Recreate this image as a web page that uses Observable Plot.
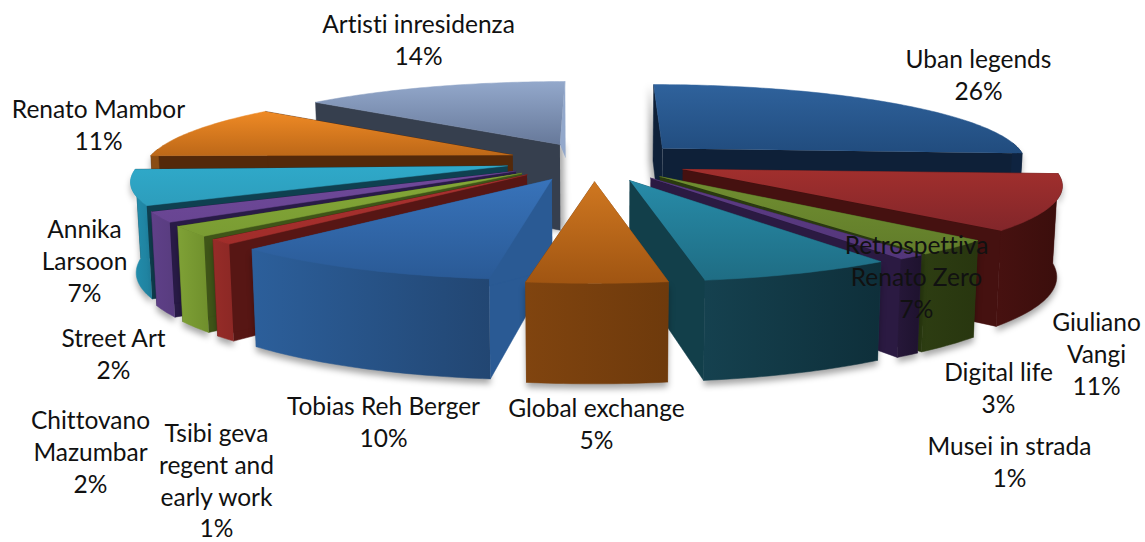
<!DOCTYPE html>
<html>
<head>
<meta charset="utf-8">
<script src="https://cdn.jsdelivr.net/npm/d3@7"></script>
<script src="https://cdn.jsdelivr.net/npm/@observablehq/plot@0.6"></script>
<style>
  html, body { margin: 0; padding: 0; background: #fff; }
  svg { display: block; }
  svg text { font-variant-ligatures: none; }
</style>
</head>
<body>
<div id="chart"></div>
<script>
// Exhibition shares, clockwise from twelve o'clock
const categories = [
  "Uban legends", "Giuliano Vangi", "Digital life", "Musei in strada",
  "Retrospettiva Renato Zero", "Global exchange", "Tobias Reh Berger",
  "Tsibi geva regent and early work", "Chittovano Mazumbar", "Street Art",
  "Annika Larsoon", "Renato Mambor", "Artisti inresidenza"
];
const shares = [26, 11, 3, 1, 7, 5, 10, 1, 2, 2, 7, 11, 14];
const labelText = [
  "Uban legends", "Giuliano\nVangi", "Digital life", "Musei in strada",
  "Retrospettiva\nRenato Zero", "Global exchange", "Tobias Reh Berger",
  "Tsibi geva\nregent and\nearly work", "Chittovano\nMazumbar", "Street Art",
  "Annika\nLarsoon", "Renato Mambor", "Artisti inresidenza"
];

// Colours per slice: lit top (start, end), outer wall (start, end), cut face
const palette = [
  ["#2f629c", "#214c7e", "#0e2340", "#0e2340", "#0e2038"],
  ["#a12f2d", "#82262a", "#471110", "#3a0e0c", "#451110"],
  ["#718f31", "#617c2a", "#2d3d12", "#28360f", "#2a3a10"],
  ["#5d3c85", "#53367a", "#261739", "#1e122e", "#2b1a42"],
  ["#278ba8", "#1f6d84", "#15414f", "#0e2f3a", "#123f4a"],
  ["#cf7720", "#a05512", "#80440f", "#6e3a0c", "#7a400e"],
  ["#3873ba", "#2a5a96", "#2c5f9b", "#224672", "#2a5a94"],
  ["#a83230", "#a12d2a", "#962c28", "#8c2825", "#571614"],
  ["#84a838", "#7a9c33", "#7fa136", "#6f8f2c", "#3f5518"],
  ["#70499a", "#684592", "#5f4088", "#583c7f", "#291b47"],
  ["#2fa9c9", "#2d9dbc", "#2290b0", "#1f7f9c", "#0f4050"],
  ["#ef8a25", "#bd6818", "#8a4c12", "#8a4c12", "#54290a"],
  ["#93a8cb", "#67799a", "#4c5a70", "#4c5a70", "#363f4e"]
];

// Paint order: far slices first, the front slice last
const paintOrder = [12, 11, 10, 9, 8, 7, 6, 0, 1, 2, 3, 4, 5];

// Rotation of each slice about its own apex, span unchanged (degrees)
const spinDeg = [0, -0.6, 0, -1, -1.5, -2.2, -4, -4.5, -3.5, -2.5, -2.5, -0.5, 0];

// Label block centres in chart units
const labelAt = [
  [978, 73], [1096, 352], [998, 386], [1009, 460], [916, 275], [596, 422],
  [383, 420], [216, 479], [90, 450], [113, 352], [84, 259], [98, 123], [418, 38]
];

// Projection of the tilted pie onto the page
const view = {x0: 597, y0: 161, rx: 366, ry: 78, persp: 0.16, explode: 0.25};
const project = (u, v) => {
  const w = 1 + view.persp * v;
  return [view.x0 + view.rx * u / w, view.y0 - view.ry * v / w];
};
// Foot of the extruded side below a point of the top surface
const drop = (u, v) => {
  const [x, y] = project(u, v);
  return [view.x0 + (x - view.x0) * 0.988, y + 88 - 10 * v];
};

// One slice's polygons, all derived from its share
const cumulative = d3.cumsum(shares);
const slices = shares.map((share, i) => {
  const spin = spinDeg[i] * Math.PI / 180;
  const a0 = (cumulative[i] - share) / 100 * 2 * Math.PI;
  const a1 = cumulative[i] / 100 * 2 * Math.PI;
  const mid = (a0 + a1) / 2;
  const cu = view.explode * Math.sin(mid), cv = view.explode * Math.cos(mid);
  const steps = Math.max(2, Math.ceil((a1 - a0) * 180 / Math.PI));
  const rim = d3.range(steps + 1).map((k) => {
    const a = a0 + spin + (a1 - a0) * k / steps;
    return [cu + Math.sin(a), cv + Math.cos(a), a];
  });
  const top = [project(cu, cv), ...rim.map(([u, v]) => project(u, v))];
  const face = (p) => [project(cu, cv), project(p[0], p[1]), drop(p[0], p[1]), drop(cu, cv)];
  const front = rim.filter((p) => Math.cos(p[2]) < 0.08);
  const wall = front.length > 1
    ? [...front.map(([u, v]) => project(u, v)), ...front.slice().reverse().map(([u, v]) => drop(u, v))]
    : null;
  return {i, top, wall, cutStart: face(rim[0]), cutEnd: face(rim[rim.length - 1])};
});

// Gradients used by the top surfaces and walls
const defs = () => {
  const d = d3.create("svg:defs");
  palette.forEach((c, i) => {
    const g = d.append("linearGradient").attr("id", `top${i}`)
      .attr("x1", 0).attr("y1", 0).attr("x2", 0).attr("y2", 1);
    g.append("stop").attr("offset", "0%").attr("stop-color", c[0]);
    g.append("stop").attr("offset", "100%").attr("stop-color", c[1]);
    const h = d.append("linearGradient").attr("id", `wall${i}`)
      .attr("x1", 0).attr("y1", 0).attr("x2", 1).attr("y2", 0);
    h.append("stop").attr("offset", "0%").attr("stop-color", c[2]);
    h.append("stop").attr("offset", "100%").attr("stop-color", c[3]);
  });
  return d.node();
};

const polygon = (points, options) =>
  Plot.line(points, {x: (p) => p[0], y: (p) => p[1], curve: "linear", ...options});

// Soft shadow cast by a polygon, displaced on the page
const shadow = (points, dx, dy) =>
  polygon(points.map(([x, y]) => [x + dx, y + dy]), {
    fill: "#000", fillOpacity: 0.35, stroke: "none", imageFilter: "blur(3px)"
  });

const marks = [defs];
for (const i of paintOrder) {
  const s = slices[i], c = palette[i];
  const paint = (points, fill) => polygon(points, {fill, stroke: fill, strokeWidth: 0.5});
  if (s.wall) marks.push(shadow(s.wall, 0, 5));
  // The two slices flanking twelve o'clock throw a shadow off their cut faces
  if (i === 12) marks.push(shadow([s.cutStart[0], s.cutStart[3], [s.cutStart[3][0] - 20, s.cutStart[3][1]], [s.cutStart[0][0] - 20, s.cutStart[0][1]]], 4, 0));
  if (i === 0) marks.push(shadow(s.cutStart, -4, 0));
  if (i === 12) {
    // Thin lit sliver on the far edge, tapering under the top surface
    marks.push(paint(s.cutEnd.slice(0, 3), c[0]));
    marks.push(paint(s.cutStart, c[4]));
  } else {
    marks.push(paint(s.cutStart, c[4]));
    marks.push(paint(s.cutEnd, c[4]));
  }
  if (s.wall) marks.push(paint(s.wall, `url(#wall${i})`));
  marks.push(paint(s.top, `url(#top${i})`));
}
marks.push(Plot.text(categories.map((_, i) => i), {
  x: (i) => labelAt[i][0],
  y: (i) => labelAt[i][1],
  text: (i) => `${labelText[i]}\n${shares[i]}%`,
  fontFamily: "Lato, Carlito, Calibri, sans-serif",
  fontSize: 24.5,
  lineHeight: 1.3,
  fill: "#111",
  textAnchor: "middle"
}));

document.getElementById("chart").append(Plot.plot({
  width: 1145,
  height: 542,
  margin: 0,
  x: {domain: [0, 1145], axis: null},
  y: {domain: [542, 0], axis: null},
  marks
}));
</script>
</body>
</html>
